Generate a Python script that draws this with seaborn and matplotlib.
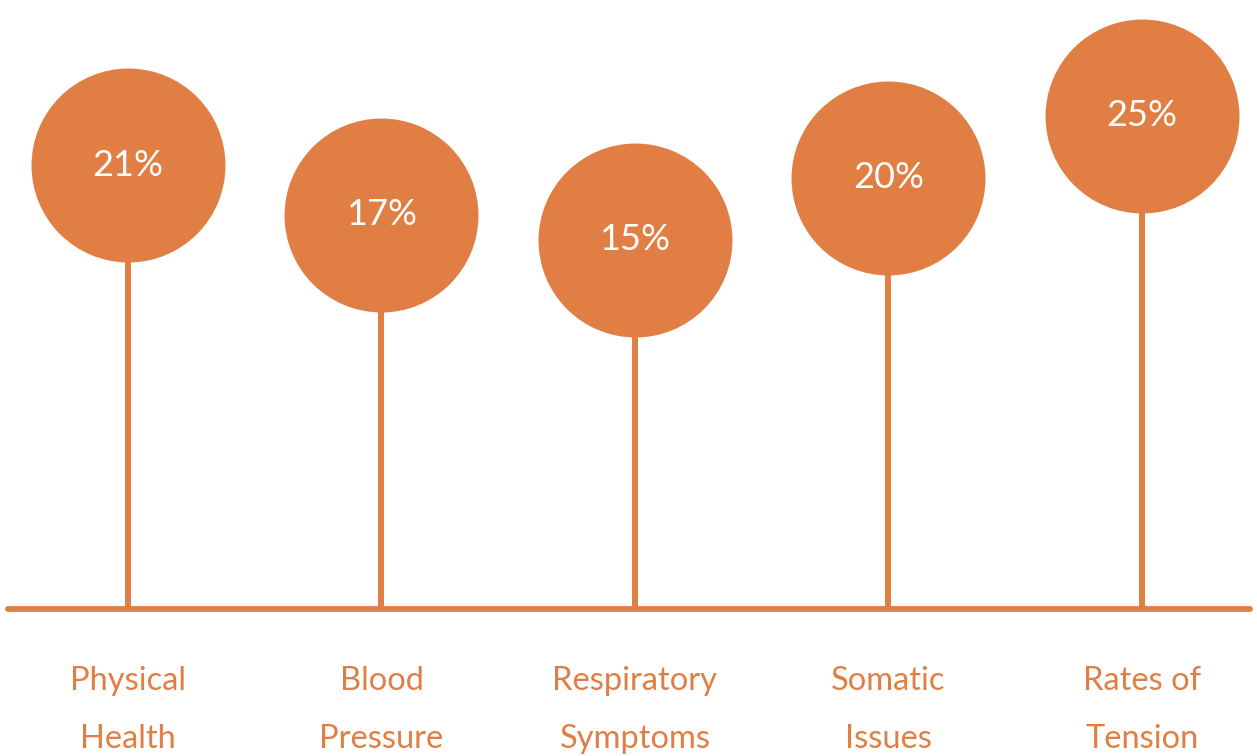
import matplotlib
matplotlib.use("Agg")
import matplotlib.pyplot as plt
import matplotlib.transforms as mtransforms
import pandas as pd
import seaborn as sns

# Data
categories = ["Physical\nHealth", "Blood\nPressure", "Respiratory\nSymptoms",
              "Somatic\nIssues", "Rates of\nTension"]
values = [21, 17, 15, 20, 25]
value_labels = ["21%", "17%", "15%", "20%", "25%"]

ORANGE = "#E07E43"
FLOOR = -14.7  # value level where the stems start

sns.set_theme(style="white")
plt.rcParams["font.family"] = ["Lato", "DejaVu Sans"]

df = pd.DataFrame({"pos": range(len(values)), "value": values,
                   "category": categories, "label": value_labels})

fig = plt.figure(figsize=(12.57, 7.56), dpi=100)
ax = fig.add_axes([0, 0, 1, 1])

# Stems
ax.vlines(df["pos"], FLOOR, df["value"], color=ORANGE, linewidth=4.3, zorder=1)

# Baseline
ax.axhline(FLOOR, xmin=0.0064, xmax=0.9944, color=ORANGE, linewidth=4.2, zorder=2)

# Lollipop heads
sns.scatterplot(data=df, x="pos", y="value", ax=ax, s=19500, color=ORANGE,
                linewidth=0, zorder=3, legend=False)

# Value labels inside the circles
for _, r in df.iterrows():
    ax.text(r["pos"], r["value"], r["label"], ha="center", va="center",
            color="white", fontsize=26, zorder=4)

# Category labels below the baseline, one text per line
trans = mtransforms.blended_transform_factory(ax.transData, ax.transAxes)
for _, r in df.iterrows():
    for i, line in enumerate(r["category"].split("\n")):
        y_px = 681 + i * 58
        ax.text(r["pos"], 1 - y_px / 756, line, ha="center", va="center",
                color=ORANGE, fontsize=23.5, transform=trans)

ax.set_xlim(-0.505, 4.454)
ax.set_ylim(-26.54, 34.3)
ax.axis("off")

fig.savefig("out.png", dpi=100)
